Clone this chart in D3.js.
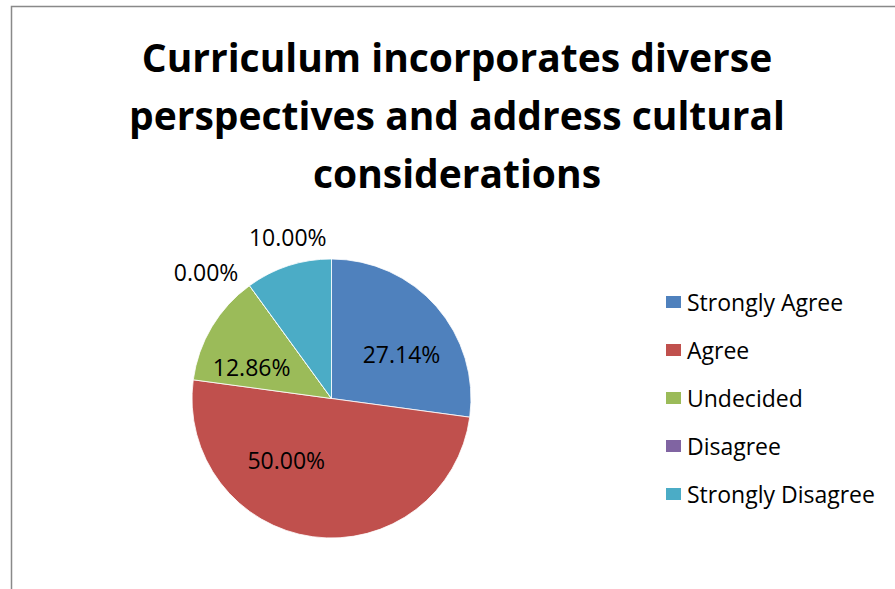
<!DOCTYPE html>
<html><head><meta charset="utf-8">
<script src="https://cdn.jsdelivr.net/npm/d3@7"></script>
<style>body{margin:0;background:#fff}svg{display:block}text{font-variant-ligatures:none}</style>
</head><body>
<svg id="c" width="895" height="589"></svg>
<script>
const categories = ["Strongly Agree","Agree","Undecided","Disagree","Strongly Disagree"];
const values = [27.14, 50.00, 12.86, 0.00, 10.00];
const colors = ["#4F81BD","#C0504D","#9BBB59","#8064A2","#4BACC6"];
const titleLines = ["Curriculum incorporates diverse","perspectives and address cultural","considerations"];
// label placement tweaks (pixels, relative to arc centroid at label radius)
const labelOffset = [[7,11],[-34,-21],[-8,11],[-27,9],[8,-2]];

const svg = d3.select("#c");
const font = "'Open Sans', 'Noto Sans', sans-serif";
// frame
svg.append("path").attr("d","M11.5,589 V6.5 H895").attr("fill","none").attr("stroke","#898989").attr("stroke-width",1.5);

svg.append("g").selectAll("text").data(titleLines).join("text")
  .attr("x",457).attr("y",(d,i)=>72+i*58).attr("text-anchor","middle")
  .attr("font-family",font).attr("font-weight","bold").attr("font-size",39).attr("fill","#000").text(d=>d);

const cx=331.5, cy=398.5, r=139.5;
const pie = d3.pie().sort(null).value(d=>d)(values);
const arc = d3.arc().innerRadius(0).outerRadius(r);
const g = svg.append("g").attr("transform",`translate(${cx},${cy})`);
g.selectAll("path").data(pie).join("path").attr("d",arc)
  .attr("fill",(d,i)=>colors[i]).attr("stroke","#fff").attr("stroke-width",0.8);

const inArc = d3.arc().innerRadius(r*0.6).outerRadius(r*0.6);
const outArc = d3.arc().innerRadius(r*1.2).outerRadius(r*1.2);
g.selectAll("text").data(pie).join("text")
  .attr("transform",(d,i)=>{
    const outside = d.value < 11;
    const p = (outside?outArc:inArc).centroid(d);
    return `translate(${p[0]+labelOffset[i][0]},${p[1]+labelOffset[i][1]})`;})
  .attr("text-anchor","middle").attr("dominant-baseline","central")
  .attr("font-family",font).attr("font-size",23).attr("fill","#000")
  .text(d=>d.value.toFixed(2)+"%");

const lg = svg.append("g");
const rows = lg.selectAll("g").data(categories).join("g")
  .attr("transform",(d,i)=>`translate(666,${301.5+i*48})`);
rows.append("rect").attr("x",0).attr("y",-5.5).attr("width",15).attr("height",12).attr("fill",(d,i)=>colors[i]);
rows.append("text").attr("x",21).attr("y",0).attr("dominant-baseline","central")
  .attr("font-family",font).attr("font-size",23).attr("fill","#000").text(d=>d);
</script>
</body></html>
